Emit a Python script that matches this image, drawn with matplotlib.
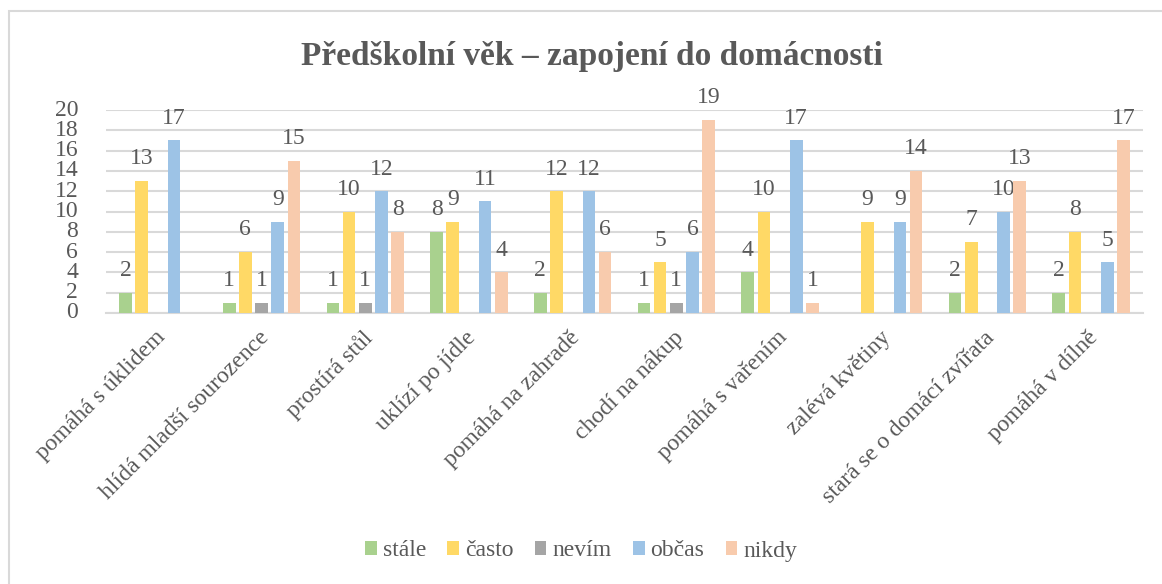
import numpy as np
import matplotlib.pyplot as plt
import matplotlib.transforms as mtransforms

# ---------------------------------------------------------------
# Data
# ---------------------------------------------------------------
categories = ['pomáhá s úklidem', 'hlídá mladší sourozence', 'prostírá stůl',
              'uklízí po jídle', 'pomáhá na zahradě', 'chodí na nákup',
              'pomáhá s vařením', 'zalévá květiny', 'stará se o domácí zvířata',
              'pomáhá v dílně']
series_names = ['stále', 'často', 'nevím', 'občas', 'nikdy']
stale = [2, 1, 1, 8, 2, 1, 4, 0, 2, 2]
casto = [13, 6, 10, 9, 12, 5, 10, 9, 7, 8]
nevim = [0, 1, 1, 0, 0, 1, 0, 0, 0, 0]
obcas = [17, 9, 12, 11, 12, 6, 17, 9, 10, 5]
nikdy = [0, 15, 8, 4, 6, 19, 1, 14, 13, 17]
yticks = list(range(0, 21, 2))

colors = ['#a9d18e', '#ffd966', '#a5a5a5', '#9dc3e6', '#f8cbad']
text_col = '#595959'

plt.rcParams['font.family'] = ['Liberation Serif', 'DejaVu Serif']

# ---------------------------------------------------------------
# Figure
# ---------------------------------------------------------------
fig = plt.figure(figsize=(11.62, 5.84), dpi=100)
ax = fig.add_axes([106 / 1162, 1 - 313 / 584, 1037 / 1162, 203 / 584])

# outer frame of the chart area (only top/left edges visible)
frame = plt.Rectangle((8.5 / 1162, -0.05), 1.2, 1 - 11 / 584 + 0.05,
                      transform=fig.transFigure, fill=False,
                      edgecolor='#d9d9d9', linewidth=1.5)
fig.patches.append(frame)

x = np.arange(len(categories))
width = 0.122
step = 0.156
all_series = [stale, casto, nevim, obcas, nikdy]

for i, (vals, name) in enumerate(zip(all_series, series_names)):
    pos = x + (i - 2) * step
    bars = ax.bar(pos, vals, width, color=colors[i], label=name, zorder=3)
    for b, v in zip(bars, vals):
        if v == 0:
            continue
        ax.annotate(str(v), (b.get_x() + b.get_width() / 2, v),
                    xytext=(0, 12), textcoords='offset points',
                    ha='center', va='baseline', fontsize=17, color=text_col)

ax.set_xlim(-0.5, len(categories) - 0.5)
ax.set_ylim(0, 20)
ax.set_yticks(yticks)
ax.yaxis.grid(True, color='#d9d9d9', linewidth=1.5, zorder=0)
ax.set_axisbelow(True)
for s in ['top', 'right', 'left']:
    ax.spines[s].set_visible(False)
ax.spines['bottom'].set_color('#d9d9d9')
ax.spines['bottom'].set_linewidth(1.5)
ax.tick_params(axis='y', length=0, labelsize=17, colors=text_col, pad=20)
ax.tick_params(axis='x', length=0, colors=text_col, pad=0)
for t in ax.get_yticklabels():
    t.set_va('center')

ax.set_xticks(x)
ax.set_xticklabels(categories, rotation=45, ha='right', va='top',
                   rotation_mode='anchor', fontsize=17, color=text_col)
shift = mtransforms.ScaledTranslation(-3.5 / 100, -14 / 100, fig.dpi_scale_trans)
for t in ax.get_xticklabels():
    t.set_transform(t.get_transform() + shift)

fig.text(591.5 / 1162, 1 - 65 / 584, 'Předškolní věk – zapojení do domácnosti',
         ha='center', va='baseline', fontsize=24, fontweight='bold', color=text_col)

leg = fig.legend(loc='center', bbox_to_anchor=(0.5, 1 - 551 / 584), ncol=5,
                 frameon=False, fontsize=17, handlelength=0.5, handleheight=0.5,
                 handletextpad=0.25, columnspacing=0.9)
for t in leg.get_texts():
    t.set_color(text_col)

fig.savefig('out.png', dpi=100)
